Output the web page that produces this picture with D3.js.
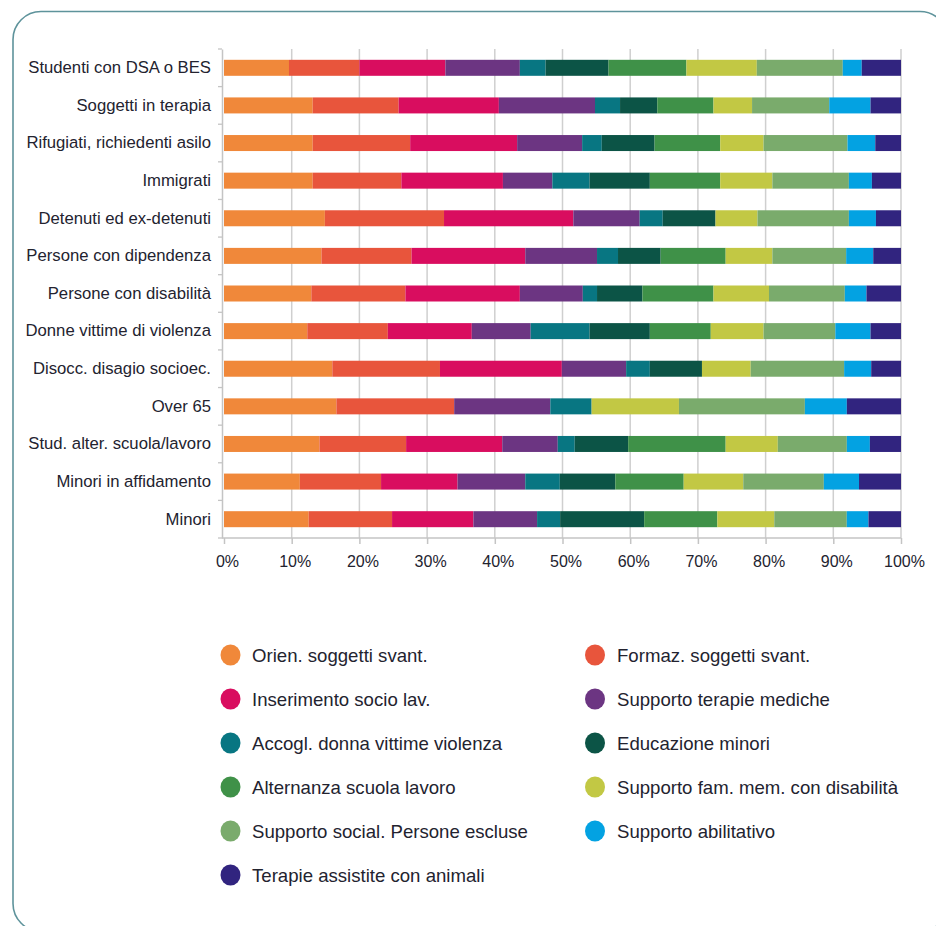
<!DOCTYPE html>
<html>
<head>
<meta charset="utf-8">
<script src="https://cdn.jsdelivr.net/npm/d3@7"></script>
<style>
  html, body { margin: 0; padding: 0; background: #fff; }
  svg { display: block; }
  text { font-family: "Liberation Sans", Arial, Helvetica, sans-serif; }
</style>
</head>
<body>
<svg id="chart" width="936" height="926"></svg>
<script>
// ---- DATA ----
const categories = [
  "Studenti con DSA o BES",
  "Soggetti in terapia",
  "Rifugiati, richiedenti asilo",
  "Immigrati",
  "Detenuti ed ex-detenuti",
  "Persone con dipendenza",
  "Persone con disabilità",
  "Donne vittime di violenza",
  "Disocc. disagio socioec.",
  "Over 65",
  "Stud. alter. scuola/lavoro",
  "Minori in affidamento",
  "Minori"
];

const seriesNames = [
  "Orien. soggetti svant.",
  "Formaz. soggetti svant.",
  "Inserimento socio lav.",
  "Supporto terapie mediche",
  "Accogl. donna vittime violenza",
  "Educazione minori",
  "Alternanza scuola lavoro",
  "Supporto fam. mem. con disabilità",
  "Supporto social. Persone escluse",
  "Supporto abilitativo",
  "Terapie assistite con animali"
];

const seriesColors = [
  "#F0883A", "#E8553C", "#D90D5F", "#6C3582", "#087682", "#0C5446",
  "#3F9148", "#C2C844", "#7AAB6C", "#03A2E2", "#31247F"
];

const orien     = [9.6, 13.1, 13.1, 13.1, 14.9, 14.4, 12.9, 12.3, 16.0, 16.6, 14.1, 11.2, 12.5];
const formaz    = [10.4, 12.7, 14.4, 13.1, 17.6, 13.3, 13.9, 11.9, 15.9, 17.4, 12.8, 12.0, 12.3];
const inserim   = [12.7, 14.8, 15.8, 15.0, 19.1, 16.8, 16.9, 12.4, 18.0, 0, 14.2, 11.3, 12.0];
const terMed    = [11.0, 14.2, 9.6, 7.3, 9.8, 10.6, 9.3, 8.7, 9.5, 14.2, 8.2, 10.0, 9.4];
const accogl    = [3.8, 3.7, 2.9, 5.5, 3.4, 3.1, 2.1, 8.7, 3.5, 6.1, 2.5, 5.1, 3.4];
const educMin   = [9.3, 5.5, 7.8, 8.9, 7.8, 6.3, 6.7, 8.9, 7.7, 0, 7.9, 8.2, 12.4];
const alternanza= [11.5, 8.3, 9.7, 10.4, 0, 9.6, 10.5, 9.0, 0, 0, 14.4, 10.1, 10.8];
const suppFam   = [10.4, 5.7, 6.4, 7.7, 6.2, 6.9, 8.2, 7.8, 7.2, 12.9, 7.7, 8.8, 8.4];
const suppSoc   = [12.7, 11.4, 12.4, 11.3, 13.5, 10.9, 11.2, 10.6, 13.8, 18.6, 10.2, 11.9, 10.7];
const suppAbil  = [2.8, 6.1, 4.1, 3.4, 4.0, 4.0, 3.2, 5.2, 4.0, 6.2, 3.4, 5.2, 3.2];
const animali   = [5.8, 4.5, 3.8, 4.3, 3.7, 4.1, 5.1, 4.5, 4.4, 8.0, 4.6, 6.2, 4.8];

const seriesValues = [orien, formaz, inserim, terMed, accogl, educMin, alternanza,
                      suppFam, suppSoc, suppAbil, animali];

const tickValues = [0, 0.1, 0.2, 0.3, 0.4, 0.5, 0.6, 0.7, 0.8, 0.9, 1.0];

// ---- BUILD TABLE ----
const table = categories.map((c, i) => {
  const row = { category: c };
  seriesNames.forEach((s, j) => { row[s] = seriesValues[j][i]; });
  return row;
});

const stack = d3.stack().keys(seriesNames).offset(d3.stackOffsetExpand);
const stacked = stack(table);

// ---- LAYOUT ----
const svg = d3.select("#chart");

// frame
svg.append("rect")
  .attr("x", 13).attr("y", 11.5)
  .attr("width", 935).attr("height", 920)
  .attr("rx", 28).attr("ry", 28)
  .attr("fill", "none")
  .attr("stroke", "#5e939b")
  .attr("stroke-width", 1.6);

const x = d3.scaleLinear().domain([0, 1]).range([224, 901]);
const y = d3.scaleBand().domain(categories).range([49, 538]).paddingInner(0).paddingOuter(0);
const barH = 16;

// gridlines
svg.append("g")
  .selectAll("line")
  .data(tickValues.slice(1))
  .join("line")
  .attr("x1", d => x(d)).attr("x2", d => x(d))
  .attr("y1", 49).attr("y2", 538)
  .attr("stroke", "#cfcfcf")
  .attr("stroke-width", 1.5);

// bars
svg.append("g")
  .selectAll("g")
  .data(stacked)
  .join("g")
  .attr("fill", (d, i) => seriesColors[i])
  .selectAll("rect")
  .data(d => d)
  .join("rect")
  .attr("x", d => x(d[0]))
  .attr("width", d => Math.max(0, x(d[1]) - x(d[0])))
  .attr("y", d => y(d.data.category) + (y.bandwidth() - barH) / 2)
  .attr("height", barH);

// y axis
const yAxis = d3.axisLeft(y).tickSize(0).tickPadding(11);
const gy = svg.append("g").attr("transform", "translate(222,0)").call(yAxis);
gy.select(".domain").attr("stroke", "#c4c4c4").attr("stroke-width", 1.5);
gy.selectAll("text")
  .attr("font-size", 16.7)
  .attr("fill", "#23232f")
  .attr("font-family", "'Liberation Sans', Arial, sans-serif");
// boundary ticks on y axis
gy.append("g")
  .selectAll("line")
  .data(d3.range(categories.length + 1))
  .join("line")
  .attr("x1", -4).attr("x2", 0)
  .attr("y1", i => 49 + i * y.step())
  .attr("y2", i => 49 + i * y.step())
  .attr("stroke", "#c4c4c4").attr("stroke-width", 1.3);

// x axis
const xAxis = d3.axisBottom(x).tickValues(tickValues)
  .tickFormat(d3.format(".0%")).tickSize(6).tickPadding(12).tickSizeOuter(0);
const gx = svg.append("g").attr("transform", "translate(0,538)").call(xAxis);
gx.select(".domain").attr("stroke", "#c4c4c4").attr("stroke-width", 1.5)
  .attr("d", "M222,0H901");
gx.selectAll(".tick line").attr("stroke", "#c4c4c4").attr("stroke-width", 1.5);
gx.selectAll("text")
  .attr("font-size", 16)
  .attr("fill", "#23232f")
  .attr("dx", 3)
  .attr("font-family", "'Liberation Sans', Arial, sans-serif");

// legend
const legendCols = [230.5, 595];
const legendTextX = [252, 617];
const legendY0 = 655, legendStep = 44;
const lg = svg.append("g")
  .selectAll("g")
  .data(seriesNames)
  .join("g")
  .attr("transform", (d, i) => `translate(${legendCols[i % 2]},${legendY0 + Math.floor(i / 2) * legendStep})`);
lg.append("ellipse")
  .attr("rx", 10).attr("ry", 10.5)
  .attr("fill", (d, i) => seriesColors[i]);
lg.append("text")
  .attr("x", (d, i) => legendTextX[i % 2] - legendCols[i % 2])
  .attr("dy", "0.35em")
  .attr("font-size", 18.6)
  .attr("fill", "#23232f")
  .text(d => d);
</script>
</body>
</html>
